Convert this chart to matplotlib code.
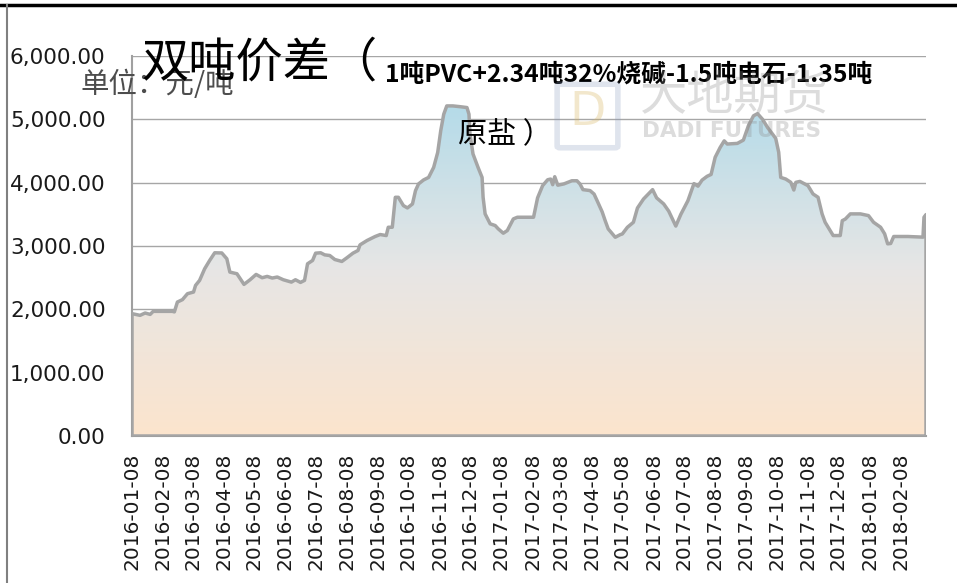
import matplotlib
matplotlib.use("Agg")
import matplotlib.pyplot as plt
import matplotlib.dates as mdates
from matplotlib.patches import PathPatch, FancyBboxPatch
from matplotlib.lines import Line2D
import numpy as np
import pandas as pd

# ---------------- data ----------------
dates = [
    "2016-01-08", "2016-01-16", "2016-01-21", "2016-01-26", "2016-01-29", "2016-02-17", "2016-02-19",
    "2016-02-22", "2016-02-27", "2016-03-03", "2016-03-09", "2016-03-11", "2016-03-15", "2016-03-20",
    "2016-03-25", "2016-03-30", "2016-04-06", "2016-04-11", "2016-04-14", "2016-04-21", "2016-04-28",
    "2016-05-04", "2016-05-10", "2016-05-16", "2016-05-21", "2016-05-26", "2016-05-31", "2016-06-06",
    "2016-06-14", "2016-06-18", "2016-06-23", "2016-06-27", "2016-06-30", "2016-07-05", "2016-07-08",
    "2016-07-13", "2016-07-17", "2016-07-22", "2016-07-27", "2016-08-03", "2016-08-08", "2016-08-14",
    "2016-08-19", "2016-08-21", "2016-08-28", "2016-09-05", "2016-09-10", "2016-09-16", "2016-09-18",
    "2016-09-22", "2016-09-25", "2016-09-28", "2016-10-03", "2016-10-07", "2016-10-12", "2016-10-15",
    "2016-10-18", "2016-10-23", "2016-10-28", "2016-11-02", "2016-11-06", "2016-11-09", "2016-11-12",
    "2016-11-15", "2016-11-21", "2016-11-28", "2016-12-05", "2016-12-07", "2016-12-08", "2016-12-11",
    "2016-12-16", "2016-12-20", "2016-12-21", "2016-12-23", "2016-12-28", "2017-01-02", "2017-01-05",
    "2017-01-10", "2017-01-14", "2017-01-20", "2017-01-24", "2017-02-09", "2017-02-13", "2017-02-18",
    "2017-02-23", "2017-02-26", "2017-02-28", "2017-03-02", "2017-03-05", "2017-03-11", "2017-03-19",
    "2017-03-24", "2017-03-27", "2017-03-30", "2017-04-06", "2017-04-10", "2017-04-13", "2017-04-18",
    "2017-04-21", "2017-04-24", "2017-05-01", "2017-05-06", "2017-05-08", "2017-05-13", "2017-05-19",
    "2017-05-23", "2017-05-29", "2017-06-07", "2017-06-11", "2017-06-18", "2017-06-23", "2017-06-30",
    "2017-07-05", "2017-07-12", "2017-07-18", "2017-07-22", "2017-07-26", "2017-07-31", "2017-08-04",
    "2017-08-08", "2017-08-13", "2017-08-17", "2017-08-20", "2017-08-30", "2017-09-05", "2017-09-10",
    "2017-09-15", "2017-09-19", "2017-09-24", "2017-09-29", "2017-10-07", "2017-10-10", "2017-10-12",
    "2017-10-17", "2017-10-22", "2017-10-25", "2017-10-27", "2017-10-31", "2017-11-08", "2017-11-13",
    "2017-11-18", "2017-11-22", "2017-11-25", "2017-12-03", "2017-12-10", "2017-12-12", "2017-12-15",
    "2017-12-20", "2017-12-30", "2018-01-07", "2018-01-12", "2018-01-19", "2018-01-23", "2018-01-26",
    "2018-01-29", "2018-02-01", "2018-02-15", "2018-03-02", "2018-03-03", "2018-03-05",
]
spread = [
    1932, 1905, 1942, 1920, 1968, 1968, 1960,
    2115, 2153, 2247, 2273, 2378, 2457, 2640,
    2772, 2893, 2890, 2798, 2588, 2562, 2394,
    2467, 2551, 2499, 2520, 2494, 2510, 2467,
    2430, 2467, 2425, 2457, 2719, 2772, 2887,
    2893, 2860, 2850, 2787, 2756, 2814, 2887,
    2929, 3018, 3087, 3150, 3181, 3165, 3296,
    3296, 3769, 3769, 3638, 3601, 3664, 3874,
    3980, 4043, 4083, 4241, 4477, 4819, 5081,
    5212, 5212, 5200, 5186, 5081, 4767, 4453,
    4241, 4083, 3769, 3507, 3350, 3323, 3271,
    3202, 3244, 3428, 3454, 3454, 3760, 3953,
    4046, 4057, 3968, 4094, 3960, 3980, 4030,
    4030, 3980, 3890, 3875, 3820, 3716, 3540,
    3400, 3270, 3138, 3180, 3190, 3295, 3375,
    3600, 3742, 3890, 3760, 3664, 3550, 3315,
    3500, 3715, 3985, 3945, 4040, 4100, 4130,
    4400, 4557, 4660, 4610, 4620, 4672, 4900,
    5055, 5090, 5000, 4870, 4700, 4480, 4083,
    4057, 4005, 3884, 4005, 4020, 3953, 3822,
    3769, 3507, 3375, 3165, 3165, 3400, 3425,
    3507, 3507, 3480, 3375, 3296, 3192, 3034,
    3040, 3150, 3150, 3140, 3454, 3496,
]
tick_dates = [
    "2016-01-08", "2016-02-08", "2016-03-08", "2016-04-08", "2016-05-08", "2016-06-08", "2016-07-08",
    "2016-08-08", "2016-09-08", "2016-10-08", "2016-11-08", "2016-12-08", "2017-01-08", "2017-02-08",
    "2017-03-08", "2017-04-08", "2017-05-08", "2017-06-08", "2017-07-08", "2017-08-08", "2017-09-08",
    "2017-10-08", "2017-11-08", "2017-12-08", "2018-01-08", "2018-02-08",
]
y_ticks = [0, 1000, 2000, 3000, 4000, 5000, 6000]

title_big = "双吨价差（"
title_small = "1吨PVC+2.34吨32%烧碱-1.5吨电石-1.35吨"
title_line2 = "原盐 ）"
unit_text = "单位：元/吨"

# ---------------- figure ----------------
W, H = 957, 583
fig = plt.figure(figsize=(W / 100, H / 100), dpi=100)
fig.patch.set_facecolor("white")
plt.rcParams["font.family"] = ["Noto Sans CJK SC", "DejaVu Sans"]

def fx(px):
    return px / W

def fy(py):
    return 1 - py / H

L, R, T, B = 132, 926, 56, 436
ax = fig.add_axes([fx(L), fy(B), (R - L) / W, (B - T) / H])

x = mdates.date2num(pd.to_datetime(dates))
y = np.array(spread, dtype=float)

# gridlines
for v in y_ticks[1:]:
    ax.axhline(v, color="#a6a6a6", lw=1.0, zorder=0.5)

# area with gradient fill
poly = ax.fill_between(x, y, 0, facecolor="none", edgecolor="none")
path = poly.get_paths()[0]
patch = PathPatch(path, transform=ax.transData, facecolor="none",
                  edgecolor="#a5a5a5", lw=2.5, zorder=3, joinstyle="round")
ax.add_patch(patch)

stops = np.array([[252, 228, 205], [231, 230, 229], [180, 219, 233]]) / 255.0
n = 256
t = np.linspace(0, 1, n)
grad = np.zeros((n, 2, 3))
for c in range(3):
    col = np.interp(t, [0, 0.5, 1.0], stops[:, c])
    grad[:, :, c] = col[:, None]
im = ax.imshow(grad, extent=[x[0], x[-1], 0, 5250], origin="lower",
               aspect="auto", zorder=2, interpolation="bilinear")
im.set_clip_path(patch)
ax.set_xlim(x[0], x[-1])
ax.set_ylim(0, 6000)

# axes styling
for s in ["top", "right"]:
    ax.spines[s].set_visible(False)
ax.spines["left"].set_color("#a0a0a0")
ax.spines["left"].set_linewidth(1.5)
ax.spines["bottom"].set_color("#a0a0a0")
ax.spines["bottom"].set_linewidth(1.5)

ax.set_yticks(y_ticks)
ax.set_yticklabels([f"{v:,.2f}" for v in y_ticks], family="DejaVu Sans",
                   fontsize=15.5, color="#1a1a1a")
ax.tick_params(axis="y", length=0, pad=19)

tx = mdates.date2num(pd.to_datetime(tick_dates))
ax.set_xticks(tx)
ax.set_xticklabels(tick_dates, rotation=90, family="DejaVu Sans",
                   fontsize=14.5, color="#1a1a1a", va="top", ha="center")
ax.tick_params(axis="x", length=0, pad=12)

# ---------------- texts ----------------
fig.text(fx(80), fy(85), unit_text, fontsize=20.5, color="#4d4d4d",
         ha="left", va="center", zorder=5)
fig.text(fx(141), fy(63), title_big, fontsize=34, color="black",
         ha="left", va="center", zorder=6)
fig.text(fx(385), fy(75), title_small, fontsize=17.8, fontweight="bold",
         color="black", ha="left", va="center", zorder=6)
fig.text(fx(458), fy(135), title_line2, fontsize=21, color="black",
         ha="left", va="center", zorder=6)

# watermark
wm_color = (0.55, 0.55, 0.55)
fig.text(fx(640), fy(97), "大地期货", fontsize=34, color=wm_color, alpha=0.3,
         ha="left", va="center", zorder=7)
fig.text(fx(642), fy(131), "DADI FUTURES", fontsize=15.5, fontweight="bold",
         family="DejaVu Sans", color=wm_color, alpha=0.3, ha="left", va="center", zorder=7)
logo = FancyBboxPatch((fx(560), fy(146)), fx(55), 60 / H,
                      boxstyle="round,pad=0.003", transform=fig.transFigure,
                      facecolor="none", edgecolor=(0.55, 0.62, 0.75), lw=4, alpha=0.28, zorder=7)
fig.patches.append(logo)
fig.text(fx(588), fy(113), "D", fontsize=34, color=(0.85, 0.72, 0.4), alpha=0.33,
         family="DejaVu Sans", ha="center", va="center", zorder=7)

# outer frame
fig.add_artist(Line2D([0, 1], [fy(5), fy(5)], transform=fig.transFigure,
                      color="black", lw=2.5))
fig.add_artist(Line2D([fx(7), fx(7)], [fy(5), 0], transform=fig.transFigure,
                      color="#808080", lw=1.5))

fig.savefig("out.png", dpi=100)
